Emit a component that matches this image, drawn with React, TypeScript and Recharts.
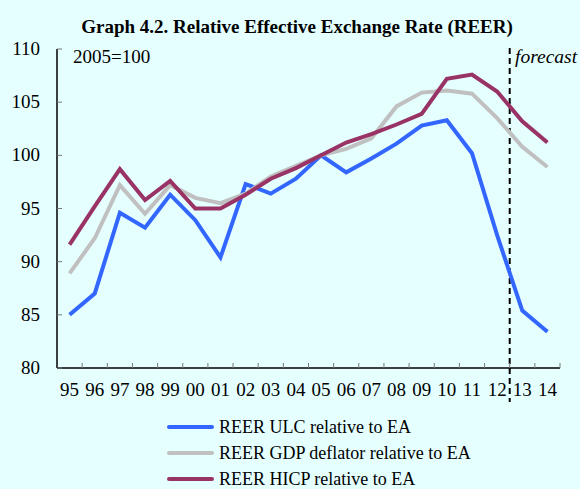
import { LineChart, Line, XAxis, YAxis, ReferenceLine, Legend, Customized } from 'recharts';

const years = ['95', '96', '97', '98', '99', '00', '01', '02', '03', '04', '05', '06', '07', '08', '09', '10', '11', '12', '13', '14'];
const reerUlc = [85.0, 87.0, 94.6, 93.2, 96.3, 93.9, 90.4, 97.3, 96.4, 97.8, 100.0, 98.4, 99.7, 101.1, 102.8, 103.3, 100.2, 92.5, 85.4, 83.4];
const reerGdp = [88.9, 92.2, 97.2, 94.5, 97.2, 96.0, 95.5, 96.4, 98.0, 99.0, 100.0, 100.6, 101.6, 104.6, 105.9, 106.1, 105.8, 103.5, 100.8, 98.9];
const reerHicp = [91.6, 95.2, 98.7, 95.8, 97.6, 95.0, 95.0, 96.3, 97.8, 98.8, 100.0, 101.2, 102.0, 102.9, 103.9, 107.2, 107.6, 106.0, 103.2, 101.2];
const seriesNames = ['REER ULC relative to EA', 'REER GDP deflator relative to EA', 'REER HICP relative to EA'];
const yTicks = [80, 85, 90, 95, 100, 105, 110];
const forecastStart = '13';

const data = years.map((y, i) => ({ year: y, ulc: reerUlc[i], gdp: reerGdp[i], hicp: reerHicp[i] }));

const W = 580;
const H = 489;
const margin = { top: 49, right: 20, left: 0, bottom: 91 };
const yAxisW = 57;
const half = (W - margin.right - yAxisW) / years.length / 2;
const font = 'Times New Roman, Liberation Serif, Tinos, serif';

const XTick = ({ x, y, payload }: any) => (
  <g>
    <text x={x} y={y + 28} textAnchor="middle" fontSize={19} fontFamily={font} fill="#000">{payload.value}</text>
    <line x1={x + half} x2={x + half} y1={y} y2={y - 5} stroke="#777" />
  </g>
);

const YTick = ({ x, y, payload }: any) => (
  <g>
    <text x={x - 17} y={y + 6} textAnchor="end" fontSize={19} fontFamily={font} fill="#000">{payload.value}</text>
    <line x1={x} x2={x + 5} y1={y} y2={y} stroke="#777" />
  </g>
);

const Texts = () => (
  <g fontFamily={font} fill="#000">
    <text x={297} y={33} textAnchor="middle" fontSize={19} fontWeight="bold">Graph 4.2. Relative Effective Exchange Rate (REER)</text>
    <text x={73} y={63} fontSize={19}>2005=100</text>
    <text x={515} y={63} fontSize={19.5} fontStyle="italic">forecast</text>
  </g>
);

const LegendBox = ({ payload }: any) => {
  const items = seriesNames.map((n) => payload.find((e: any) => e.value === n)).filter(Boolean);
  return (
    <div style={{ fontFamily: font, fontSize: 18, lineHeight: '20px', color: '#000' }}>
      {items.map((e: any) => (
        <div key={e.value} style={{ display: 'flex', alignItems: 'center', height: 26 }}>
          <span style={{ display: 'inline-block', width: 47, height: 4, background: e.color, borderRadius: 2 }} />
          <span style={{ marginLeft: 5 }}>{e.value}</span>
        </div>
      ))}
    </div>
  );
};

export default function App() {
  return (
    <div style={{ position: 'absolute', left: 0, top: 0, width: W, height: H, background: '#E5FFFF' }}>
      <LineChart width={W} height={H} data={data} margin={margin}>
        <XAxis dataKey="year" scale="band" interval={0} height={30} tickSize={0} tickMargin={0} tickLine={false}
          axisLine={{ stroke: '#000', strokeWidth: 1.5 }} tick={<XTick />} />
        <YAxis domain={[80, 110]} ticks={yTicks} width={yAxisW} tickSize={0} tickMargin={0} tickLine={false}
          axisLine={{ stroke: '#000', strokeWidth: 1.5 }} tick={<YTick />} interval={0} />
        <ReferenceLine segment={[{ x: forecastStart, y: 110.1 }, { x: forecastStart, y: 76.8 }]} position="start"
          ifOverflow="visible" stroke="#000" strokeWidth={2} strokeDasharray="6 4" />
        <Line dataKey="ulc" name={seriesNames[0]} stroke="#3366FF" strokeWidth={4} dot={false} isAnimationActive={false} />
        <Line dataKey="gdp" name={seriesNames[1]} stroke="#C0C0C0" strokeWidth={4} dot={false} isAnimationActive={false} />
        <Line dataKey="hicp" name={seriesNames[2]} stroke="#993366" strokeWidth={4} dot={false} isAnimationActive={false} />
        <Legend layout="vertical" verticalAlign="middle" align="center" content={<LegendBox />}
          wrapperStyle={{ top: 414, left: 167, width: 360 }} />
        <Customized component={<Texts />} />
      </LineChart>
    </div>
  );
}
